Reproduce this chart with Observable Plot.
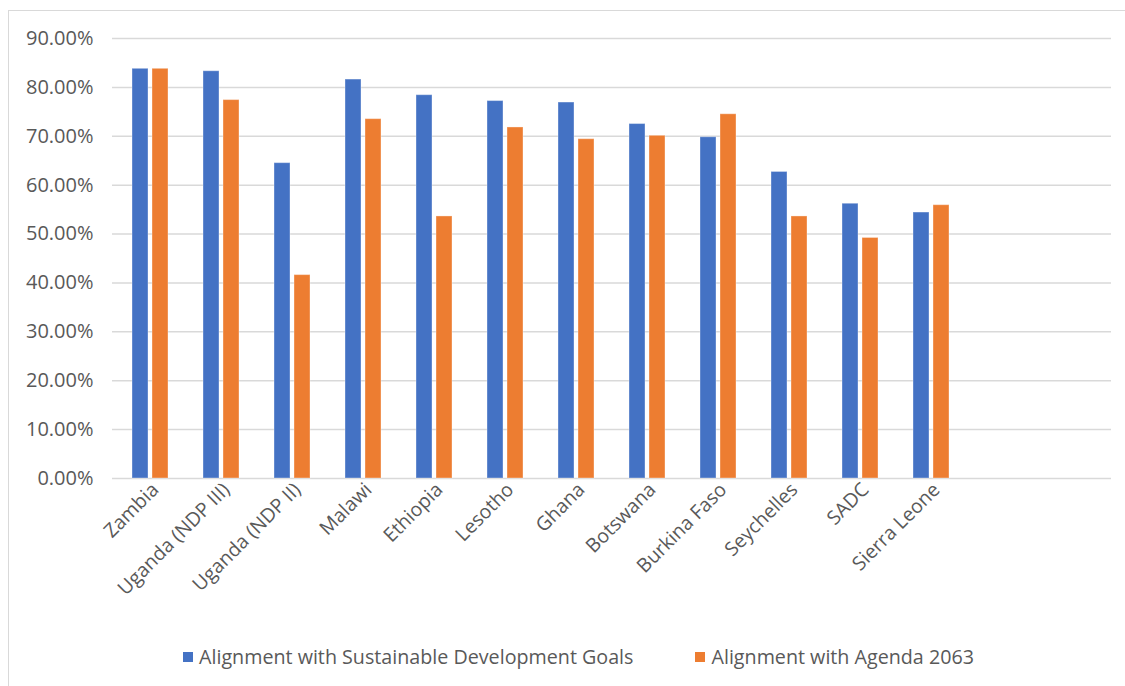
<!DOCTYPE html>
<html>
<head>
<meta charset="utf-8">
<script src="https://cdn.jsdelivr.net/npm/d3@7"></script>
<script src="https://cdn.jsdelivr.net/npm/@observablehq/plot@0.6"></script>
<style>
  html, body { margin: 0; padding: 0; background: #fff; }
  body { width: 1125px; height: 686px; position: relative; overflow: hidden; font-family: "Open Sans", Lato, sans-serif; }
  #frame { position: absolute; left: 8px; top: 10px; width: 1130px; height: 690px; border-left: 1px solid #d9d9d9; border-top: 1px solid #d9d9d9; }
  #chart { position: absolute; left: 0; top: 0; }
  #legend { position: absolute; top: 643px; left: 183px; display: flex; gap: 62px; font-size: 19.7px; color: #595959; }
  .item { display: flex; align-items: center; gap: 6px; }
  .sw { width: 10px; height: 10px; display: inline-block; }
</style>
</head>
<body>
<div id="frame"></div>
<div id="chart"></div>
<div id="legend"></div>
<script>
const categories = ["Zambia", "Uganda (NDP III)", "Uganda (NDP II)", "Malawi", "Ethiopia", "Lesotho", "Ghana", "Botswana", "Burkina Faso", "Seychelles", "SADC", "Sierra Leone"];
const sdg = [83.8, 83.3, 64.5, 81.6, 78.4, 77.2, 76.9, 72.5, 69.8, 62.7, 56.2, 54.4];
const agenda = [83.8, 77.4, 41.6, 73.5, 53.6, 71.8, 69.4, 70.1, 74.5, 53.6, 49.2, 55.9];
const seriesNames = ["Alignment with Sustainable Development Goals", "Alignment with Agenda 2063"];
const seriesColors = ["#4472C4", "#ED7D31"];
const yTicks = [0, 10, 20, 30, 40, 50, 60, 70, 80, 90];

const rowsSdg = categories.map((c, i) => ({category: c, value: sdg[i]}));
const rowsAgenda = categories.map((c, i) => ({category: c, value: agenda[i]}));

const W = 1125, H = 620, ML = 112, MR = 14, MT = 38, MB = 142;
const slot = (W - ML - MR) / 14;

const chart = Plot.plot({
  width: W,
  height: H,
  marginLeft: ML,
  marginRight: MR,
  marginTop: MT,
  marginBottom: MB,
  style: {fontFamily: "'Open Sans', Lato, sans-serif", fontSize: "19px", color: "#595959", background: "transparent"},
  x: {domain: categories, range: [ML, ML + slot * categories.length], paddingInner: 0.5, paddingOuter: 0.25},
  y: {domain: [0, 90]},
  marks: [
    Plot.gridY(yTicks, {stroke: "#d9d9d9", strokeOpacity: 1, strokeWidth: 1.5}),
    Plot.axisY(yTicks, {tickSize: 0, tickPadding: 19, tickFormat: d => d.toFixed(2) + "%", fontSize: 20, fill: "#595959", label: null}),
    Plot.axisX({tickSize: 0, tickPadding: 8, tickRotate: -45, dx: 5, fontSize: 19.5, fill: "#595959", label: null}),
    Plot.barY(rowsSdg, {x: "category", y: "value", fill: seriesColors[0], insetRight: 20, stroke: "#ffffff", strokeOpacity: 0.35, strokeWidth: 1}),
    Plot.barY(rowsAgenda, {x: "category", y: "value", fill: seriesColors[1], insetLeft: 20, stroke: "#ffffff", strokeOpacity: 0.35, strokeWidth: 1})
  ]
});
document.getElementById("chart").appendChild(chart);

const legend = document.getElementById("legend");
seriesNames.forEach((name, i) => {
  const item = document.createElement("div");
  item.className = "item";
  const sw = document.createElement("span");
  sw.className = "sw";
  sw.style.background = seriesColors[i];
  const t = document.createElement("span");
  t.textContent = name;
  item.appendChild(sw);
  item.appendChild(t);
  legend.appendChild(item);
});
</script>
</body>
</html>
